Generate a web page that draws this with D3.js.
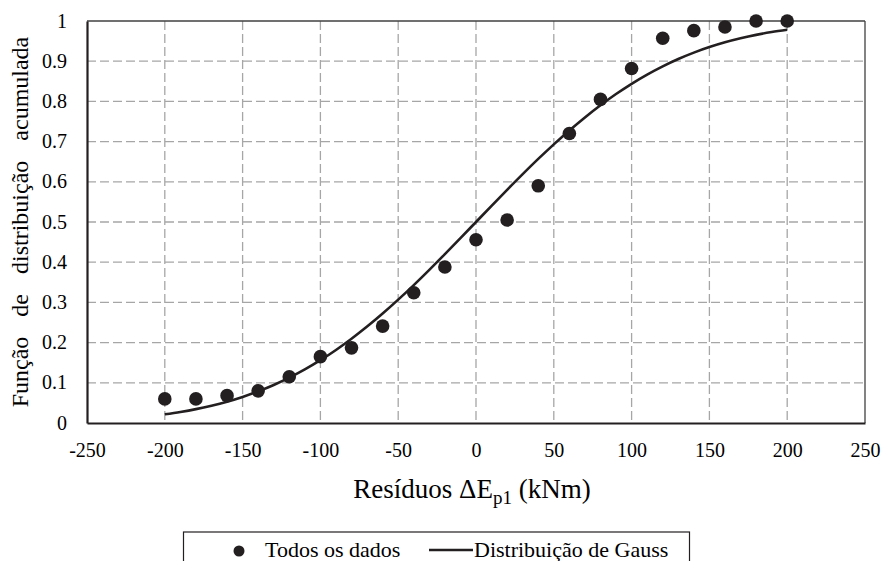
<!DOCTYPE html>
<html><head><meta charset="utf-8">
<script src="https://cdn.jsdelivr.net/npm/d3@7"></script>
</head><body style="margin:0;background:#fff">
<script>
const xTicks = [-250,-200,-150,-100,-50,0,50,100,150,200,250];
const yTicks = [0,0.1,0.2,0.3,0.4,0.5,0.6,0.7,0.8,0.9,1];
const yTickLabels = ["0","0.1","0.2","0.3","0.4","0.5","0.6","0.7","0.8","0.9","1"];
const dataX = [-200,-180,-160,-140,-120,-100,-80,-60,-40,-20,0,20,40,60,80,100,120,140,160,180,200];
const dataY = [0.06,0.06,0.068,0.08,0.115,0.165,0.187,0.241,0.324,0.388,0.456,0.505,0.59,0.72,0.805,0.882,0.957,0.976,0.985,1.0,1.0];
const gaussX = [-200,-190,-180,-170,-160,-150,-140,-130,-120,-110,-100,-90,-80,-70,-60,-50,-40,-30,-20,-10,0,10,20,30,40,50,60,70,80,90,100,110,120,130,140,150,160,170,180,190,200];
const gaussY = [0.0217,0.0275,0.0345,0.0430,0.0530,0.0649,0.0787,0.0946,0.1128,0.1333,0.1562,0.1817,0.2096,0.2398,0.2722,0.3068,0.3431,0.3810,0.4200,0.4598,0.5,0.5402,0.5800,0.6190,0.6569,0.6932,0.7278,0.7602,0.7904,0.8183,0.8438,0.8667,0.8872,0.9054,0.9213,0.9351,0.9470,0.9570,0.9655,0.9725,0.9783];
const xTitle = "Resíduos ΔE";
const xTitleSub = "p1";
const xTitleUnit = " (kNm)";
const yTitle = "Função de distribuição acumulada";
const legendLabels = ["Todos os dados","Distribuição de Gauss"];

const FONT = "Times New Roman";
const INK = "#231f20";
const W=882,H=561;
const svg=d3.select("body").append("svg").attr("width",W).attr("height",H).style("display","block");
const L=87,R=865,T=21,B=423;
const x=d3.scaleLinear().domain([-250,250]).range([L,R]);
const y=d3.scaleLinear().domain([0,1]).range([B,T]);

// grid
const g=svg.append("g");
g.selectAll("line.v").data(xTicks.filter(d=>d>-250&&d<250)).join("line")
 .attr("x1",d=>x(d)).attr("x2",d=>x(d)).attr("y1",T).attr("y2",B)
 .attr("stroke","#a6a6a6").attr("stroke-width",1.3).attr("stroke-dasharray","9,4");
g.selectAll("line.h").data(yTicks.filter(d=>d>0&&d<1)).join("line")
 .attr("y1",d=>y(d)).attr("y2",d=>y(d)).attr("x1",L).attr("x2",R)
 .attr("stroke","#a6a6a6").attr("stroke-width",1.3).attr("stroke-dasharray","9,4");

// border top/right
svg.append("line").attr("x1",L).attr("x2",R).attr("y1",T).attr("y2",T).attr("stroke","#404040").attr("stroke-width",1.3);
svg.append("line").attr("x1",R).attr("x2",R).attr("y1",T).attr("y2",B).attr("stroke","#404040").attr("stroke-width",1.3);

// axes
const xAxis=d3.axisBottom(x).tickValues(xTicks).tickSize(0).tickPadding(20).tickFormat(d=>String(d));
const yAxis=d3.axisLeft(y).tickValues(yTicks).tickSize(0).tickPadding(20).tickFormat((d,i)=>yTickLabels[i]);
const gx=svg.append("g").attr("transform",`translate(0,${B})`).call(xAxis);
const gy=svg.append("g").attr("transform",`translate(${L},0)`).call(yAxis);
[gx,gy].forEach(a=>{
 a.attr("font-family",FONT).attr("font-size",20);
 a.select(".domain").attr("stroke",INK).attr("stroke-width",2.2);});
gx.selectAll("text").attr("dy","0.71em");
gy.selectAll("text").attr("dy","0.3em");

// curve
const line=d3.line().x((d,i)=>x(gaussX[i])).y(d=>y(d)).curve(d3.curveMonotoneX);
svg.append("path").datum(gaussY).attr("d",line).attr("fill","none").attr("stroke",INK).attr("stroke-width",2.6);

// points
svg.selectAll("circle.pt").data(dataY).join("circle")
 .attr("cx",(d,i)=>x(dataX[i])).attr("cy",d=>y(d)).attr("r",6.8).attr("fill",INK);

// titles
const tg=svg.append("g").attr("font-family",FONT).attr("text-anchor","middle");
const xt=tg.append("text").attr("x",472).attr("y",498).attr("font-size",27);
xt.append("tspan").text(xTitle);
xt.append("tspan").attr("dy",6).attr("font-size",19).text(xTitleSub);
xt.append("tspan").attr("dy",-6).text(xTitleUnit);
tg.append("text").attr("transform",`translate(28,${(T+B)/2}) rotate(-90)`)
 .attr("font-size",24).attr("word-spacing",14).text(yTitle);

// legend
svg.append("rect").attr("x",183.5).attr("y",532).attr("width",506).attr("height",50)
 .attr("fill","#fff").attr("stroke",INK).attr("stroke-width",1.2);
svg.append("circle").attr("cx",239).attr("cy",551).attr("r",5.5).attr("fill",INK);
svg.append("line").attr("x1",429).attr("x2",473).attr("y1",550).attr("y2",550).attr("stroke",INK).attr("stroke-width",2.6);
const lg=svg.append("g").attr("font-family",FONT).attr("font-size",22);
lg.append("text").attr("x",265).attr("y",557).text(legendLabels[0]);
lg.append("text").attr("x",474).attr("y",557).text(legendLabels[1]);
</script>
</body></html>
